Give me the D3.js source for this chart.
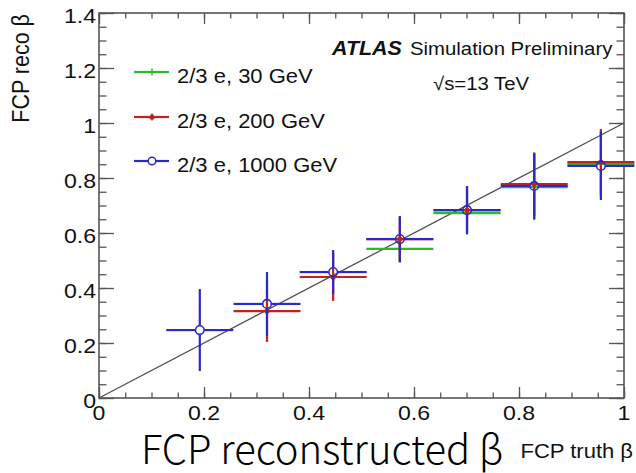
<!DOCTYPE html>
<html>
<head>
<meta charset="utf-8">
<script src="https://cdn.jsdelivr.net/npm/d3@7/dist/d3.min.js"></script>
<style>
body { margin: 0; background: #fff; }
text { font-family: "Liberation Sans", Arial, Helvetica, sans-serif; fill: #111; }
</style>
</head>
<body>
<script>
// bins of truth beta (centre) and half width
var binCenter = [0.192, 0.320, 0.446, 0.573, 0.701, 0.829, 0.956];
var binHalf = 0.0638;

// reco beta per bin, null = no entry
var val30   = [null, null, null, 0.542, 0.672, 0.767, 0.851];
var err30   = [null, null, null, 0.050, 0.070, 0.120, 0.120];
var val200  = [null, 0.316, 0.440, 0.578, 0.683, 0.778, 0.858];
var err200  = [null, 0.112, 0.087, 0.080, 0.085, 0.115, 0.120];
var val1000 = [0.247, 0.342, 0.458, 0.578, 0.683, 0.771, 0.844];
var err1000 = [0.149, 0.116, 0.080, 0.084, 0.088, 0.120, 0.124];

var seriesNames = ["2/3 e, 30 GeV", "2/3 e, 200 GeV", "2/3 e, 1000 GeV"];
var seriesColors = ["#2fb82f", "#c42020", "#2a2ac4"];

var xTickLabels = [0, 0.2, 0.4, 0.6, 0.8, 1];
var yTickLabels = [0, 0.2, 0.4, 0.6, 0.8, 1, 1.2, 1.4];

var W = 636, H = 473;
var pLeft = 99, pRight = 624, pTop = 13, pBottom = 398;
var stretch = 1.1; // picture is a bit wider than ROOT drew it

var x = d3.scaleLinear().domain([0, 1]).range([pLeft, pRight]);
var y = d3.scaleLinear().domain([0, 1.4]).range([pBottom, pTop]);

var svg = d3.select("body").append("svg")
    .attr("width", W)
    .attr("height", H);

function wideText(g, px, py, str) {
    return g.append("text")
        .attr("transform", "translate(" + px + "," + py + ") scale(" + stretch + ",1)")
        .text(str);
}

// diagonal reference line
svg.append("line")
    .attr("x1", x(0)).attr("y1", y(0))
    .attr("x2", x(1)).attr("y2", y(1))
    .attr("stroke", "#505050")
    .attr("stroke-width", 1.3);

// ticks
var axisColor = "#555";
function drawAxis(axis, tx, ty) {
    var g = svg.append("g")
        .attr("transform", "translate(" + tx + "," + ty + ")")
        .call(axis);
    g.select(".domain").remove();
    g.selectAll("line").attr("stroke", axisColor).attr("stroke-width", 1.3);
    g.selectAll("text").remove();
}
var xMinor = x.ticks(20), yMinor = y.ticks(28);
drawAxis(d3.axisBottom(x).tickValues(xMinor).tickSize(-5.5).tickSizeOuter(0), 0, pBottom);
drawAxis(d3.axisBottom(x).tickValues(xTickLabels).tickSize(-11).tickSizeOuter(0), 0, pBottom);
drawAxis(d3.axisTop(x).tickValues(xMinor).tickSize(-5.5).tickSizeOuter(0), 0, pTop);
drawAxis(d3.axisTop(x).tickValues(xTickLabels).tickSize(-11).tickSizeOuter(0), 0, pTop);
drawAxis(d3.axisLeft(y).tickValues(yMinor).tickSize(-7.5).tickSizeOuter(0), pLeft, 0);
drawAxis(d3.axisLeft(y).tickValues(yTickLabels).tickSize(-15).tickSizeOuter(0), pLeft, 0);
drawAxis(d3.axisRight(y).tickValues(yMinor).tickSize(-7.5).tickSizeOuter(0), pRight, 0);
drawAxis(d3.axisRight(y).tickValues(yTickLabels).tickSize(-15).tickSizeOuter(0), pRight, 0);

svg.append("rect")
    .attr("x", pLeft).attr("y", pTop)
    .attr("width", pRight - pLeft).attr("height", pBottom - pTop)
    .attr("fill", "none")
    .attr("stroke", axisColor)
    .attr("stroke-width", 1.6);

// tick labels
var fmt = d3.format("~g");
var labels = svg.append("g").style("font-size", "21px");
xTickLabels.forEach(function(v) {
    wideText(labels, x(v), pBottom + 22, fmt(v)).attr("text-anchor", "middle");
});
yTickLabels.forEach(function(v) {
    wideText(labels, pLeft - 3, y(v) + 10, fmt(v)).attr("text-anchor", "end");
});

// data points
var series = [
    {vals: val30, errs: err30, marker: "none"},
    {vals: val200, errs: err200, marker: "dot"},
    {vals: val1000, errs: err1000, marker: "circle"}
];
var gap = 4.5;
series.forEach(function(s, k) {
    var col = seriesColors[k];
    var g = svg.append("g")
        .attr("stroke", col)
        .attr("stroke-width", 2.2)
        .attr("fill", "none");
    binCenter.forEach(function(c, i) {
        var v = s.vals[i];
        if (v === null) return;
        var e = s.errs[i];
        var cx = x(c), cy = y(v);
        var gp = s.marker === "circle" ? gap : 0;
        g.append("line").attr("x1", x(c - binHalf)).attr("x2", cx - gp).attr("y1", cy).attr("y2", cy);
        g.append("line").attr("x1", cx + gp).attr("x2", x(c + binHalf)).attr("y1", cy).attr("y2", cy);
        g.append("line").attr("x1", cx).attr("x2", cx).attr("y1", y(v + e)).attr("y2", cy - gp);
        g.append("line").attr("x1", cx).attr("x2", cx).attr("y1", cy + gp).attr("y2", y(v - e));
        if (s.marker === "dot") {
            g.append("circle").attr("cx", cx).attr("cy", cy).attr("r", 2.6)
                .attr("fill", col).attr("stroke", "none");
        } else if (s.marker === "circle") {
            g.append("circle").attr("cx", cx).attr("cy", cy).attr("r", 4.3)
                .attr("stroke-width", 1.6);
        }
    });
});

// legend
var legend = svg.append("g").style("font-size", "20px");
var legY = [72, 117, 161];
series.forEach(function(s, k) {
    var col = seriesColors[k];
    var ly = legY[k];
    var lg = legend.append("g").attr("stroke", col).attr("stroke-width", 2.2).attr("fill", "none");
    var gp = s.marker === "circle" ? 4 : 0;
    lg.append("line").attr("x1", 134).attr("x2", 152 - gp).attr("y1", ly).attr("y2", ly);
    lg.append("line").attr("x1", 152 + gp).attr("x2", 169).attr("y1", ly).attr("y2", ly);
    if (s.marker !== "circle") {
        lg.append("line").attr("x1", 152).attr("x2", 152).attr("y1", ly - 3.5).attr("y2", ly + 3.5).attr("stroke-width", 1.5);
    }
    if (s.marker === "dot") {
        lg.append("circle").attr("cx", 152).attr("cy", ly).attr("r", 2.6).attr("fill", col).attr("stroke", "none");
    } else if (s.marker === "circle") {
        lg.append("circle").attr("cx", 152).attr("cy", ly).attr("r", 3.8).attr("stroke-width", 1.5);
    }
    wideText(legend, 177, ly + 11, seriesNames[k]);
});

// ATLAS label
var atl = svg.append("g").style("font-size", "18.5px");
wideText(atl, 332, 55, "ATLAS").style("font-weight", "bold").style("font-style", "italic").style("font-size", "19.5px");
wideText(atl, 410, 55, "Simulation Preliminary");
wideText(atl, 433, 90, "\u221As=13 TeV");

// axis titles
svg.append("text")
    .attr("transform", "translate(29,14) scale(" + stretch + ",1) rotate(-90)")
    .attr("text-anchor", "end")
    .style("font-size", "21.5px")
    .text("FCP reco \u03B2");

wideText(svg, 633, 458, "FCP truth \u03B2")
    .attr("text-anchor", "end")
    .style("font-size", "20px");

svg.append("text")
    .attr("x", 141)
    .attr("y", 464)
    .style("font-family", "'Noto Sans CJK SC', 'Noto Sans', sans-serif")
    .style("font-weight", "300")
    .style("font-size", "40px")
    .style("fill", "#000")
    .text("FCP reconstructed \u03B2");
</script>
</body>
</html>
